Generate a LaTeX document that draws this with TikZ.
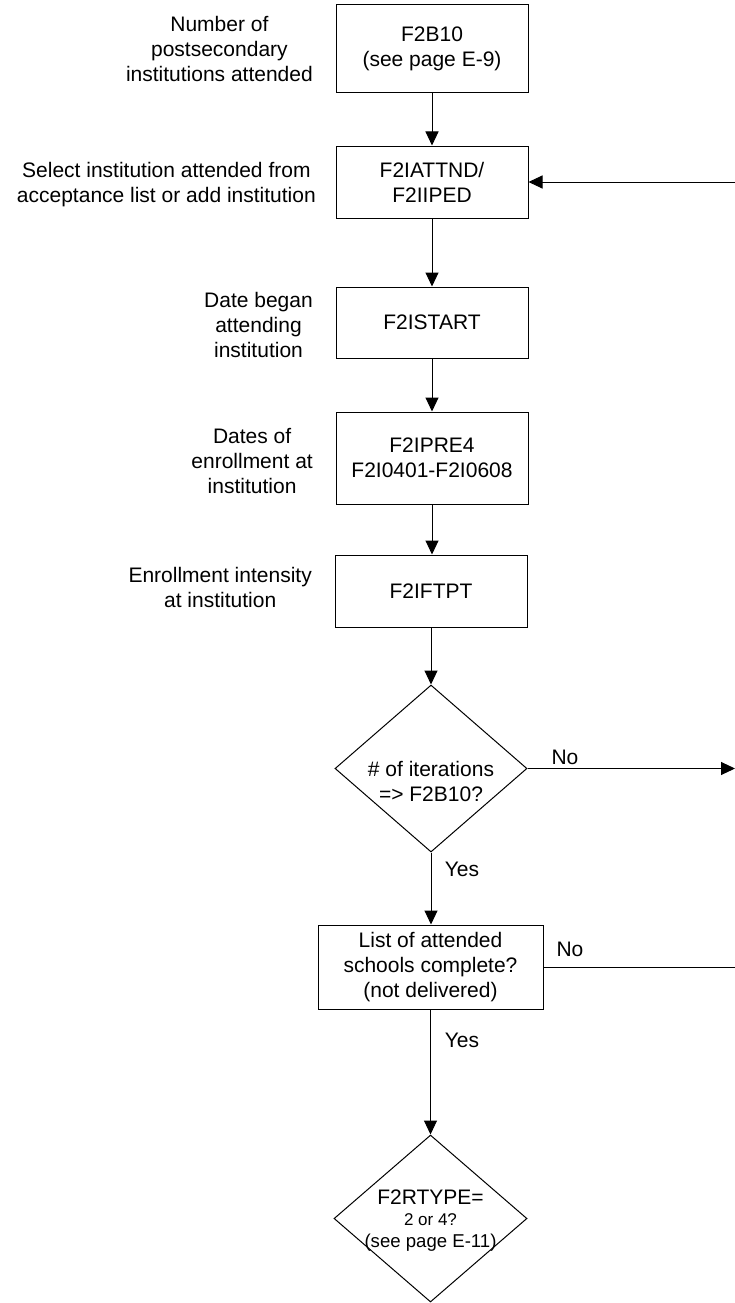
\documentclass[tikz,border=0pt]{standalone}
\usepackage{fontspec}
\setmainfont{Liberation Sans}
\usetikzlibrary{arrows.meta,shapes.geometric}
\tikzset{
  box/.style={draw, line width=1pt, minimum width=192pt, inner sep=0pt, align=center, font=\fontsize{21}{25}\selectfont},
  dia/.style={draw, line width=1pt, diamond, minimum width=192pt, minimum height=167pt, inner sep=0pt},
  dtext/.style={align=center, inner sep=0pt, font=\fontsize{21}{25}\selectfont},
  lbl/.style={anchor=east, align=center, inner sep=0pt, font=\fontsize{21}{25}\selectfont},
  yn/.style={inner sep=0pt, font=\fontsize{21}{25}\selectfont},
  arr/.style={line width=1pt, -{Triangle[length=14pt,width=13pt]}},
  ln/.style={line width=1pt}
}
\begin{document}
\begin{tikzpicture}[x=1pt,y=-1pt]
\useasboundingbox (0,0) rectangle (735,1303);
% boxes
\node[box, minimum height=88pt] (b1) at (432,49) {F2B10\\(see page E-9)};
\node[box, minimum height=72pt] (b2) at (432,182) {F2IATTND/\\F2IIPED};
\node[box, minimum height=71pt] (b3) at (432,322.5) {F2ISTART};
\node[box, minimum height=92pt] (b4) at (432,458) {F2IPRE4\\F2I0401-F2I0608};
\node[box, minimum height=72pt] (b5) at (431,591) {F2IFTPT};
\node[dia] (d1) at (431,768.5) {};
\node[dtext] (d1t) at (431,781) {\# of iterations\\=> F2B10?};
\node[box, minimum width=225pt, minimum height=84pt] (b6) at (430.5,967) {List of attended\\schools complete?\\(not delivered)};
\node[dia, minimum width=193pt] (d2) at (430.5,1218.5) {};
\node[dtext] (d2a) at (430.5,1197) {F2RTYPE=};
\node[dtext, font=\fontsize{17}{20}\selectfont] (d2b) at (430.5,1220) {2 or 4?};
\node[dtext, font=\fontsize{18.6}{22}\selectfont] (d2c) at (430.5,1243) {(see page E-11)};
% left labels
\node[lbl] (l1) at (313,49) {Number of\\postsecondary\\institutions attended};
\node[lbl] (l2) at (316,185) {Select institution attended from\\acceptance list or add institution};
\node[lbl] (l3) at (313,325) {Date began\\attending\\institution};
\node[lbl] (l4) at (313,461) {Dates of\\enrollment at\\institution};
\node[lbl] (l5) at (312,587) {Enrollment intensity\\at institution};
% coordinates at right edge
\coordinate (r1) at (735,182);
\coordinate (r2) at (735,768.5);
\coordinate (r3) at (735,967);
% connectors
\draw[arr] (b1.south) -- (b1.south |- b2.north);
\draw[arr] (b2.south) -- (b2.south |- b3.north);
\draw[arr] (b3.south) -- (b3.south |- b4.north);
\draw[arr] (b4.south) -- (b4.south |- b5.north);
\draw[arr] (b5.south) -- (b5.south |- d1.north);
\draw[arr] (d1.south) -- (d1.south |- b6.north);
\draw[arr] (b6.south) -- (b6.south |- d2.north);
\draw[arr] (r1) -- (b2.east);
\draw[arr] (d1.east) -- (r2);
\draw[ln] (b6.east) -- (r3);
% yes/no labels
\node[yn] (n1) at (565,757) {No};
\node[yn] (y1) at (462,869) {Yes};
\node[yn] (n2) at (570,949) {No};
\node[yn] (y2) at (462,1040) {Yes};
\end{tikzpicture}
\end{document}
